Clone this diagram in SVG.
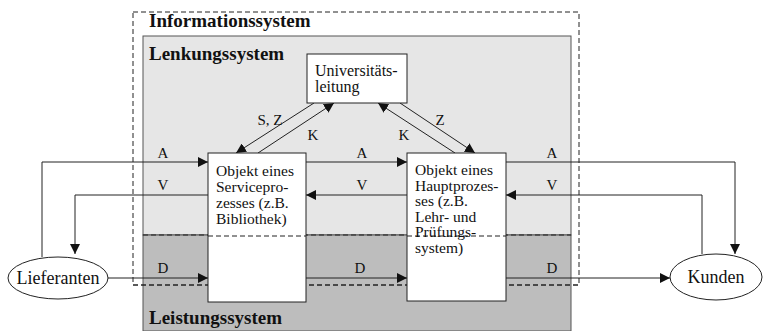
<svg xmlns="http://www.w3.org/2000/svg" width="763" height="331" viewBox="0 0 763 331">
<style>
.t{font-family:"Liberation Serif","Times New Roman",serif;fill:#111}
.title{font-size:19px;font-weight:bold}
.box{fill:#fff;stroke:#222;stroke-width:1}
.lbl{font-size:15px}
.bt{font-size:16px}
.bs{font-size:15.5px}
.ln{fill:none;stroke:#222;stroke-width:1}
.dash{fill:none;stroke:#222;stroke-width:1;stroke-dasharray:5,3}
</style>
<defs>
<marker id="ah" viewBox="0 0 10 10" refX="10" refY="5" markerWidth="10" markerHeight="10" markerUnits="userSpaceOnUse" orient="auto">
<path d="M0,0 L10,5 L0,10 z" fill="#111"/>
</marker>
</defs>
<g id="background">
<rect x="143" y="36" width="428" height="199" fill="#e6e6e6" stroke="#555" stroke-width="1"/>
<rect x="143" y="235" width="428" height="96" fill="#bdbdbd" stroke="#555" stroke-width="1"/>
<line x1="143" y1="235" x2="571" y2="235" class="dash"/>
<rect x="133" y="12" width="446" height="273" class="dash"/>
<text class="t title" x="149" y="27">Informationssystem</text>
<text class="t title" x="149" y="60">Lenkungssystem</text>
<text class="t title" x="149" y="324">Leistungssystem</text>
</g>
<g id="connectors">
<polyline class="ln" points="42,257 42,162 208,162" marker-end="url(#ah)"/>
<polyline class="ln" points="208,195 75,195 75,254" marker-end="url(#ah)"/>
<line class="ln" x1="108" y1="278" x2="208" y2="278" marker-end="url(#ah)"/>
<line class="ln" x1="306" y1="162" x2="407" y2="162" marker-end="url(#ah)"/>
<line class="ln" x1="407" y1="195" x2="306" y2="195" marker-end="url(#ah)"/>
<line class="ln" x1="306" y1="278" x2="407" y2="278" marker-end="url(#ah)"/>
<polyline class="ln" points="506,162 735,162 735,254" marker-end="url(#ah)"/>
<polyline class="ln" points="702,254 702,195 506,195" marker-end="url(#ah)"/>
<line class="ln" x1="506" y1="278" x2="670" y2="278" marker-end="url(#ah)"/>
<line class="ln" x1="314" y1="103" x2="236" y2="153" marker-end="url(#ah)"/>
<line class="ln" x1="258" y1="153" x2="334" y2="103" marker-end="url(#ah)"/>
<line class="ln" x1="455" y1="153" x2="378" y2="103" marker-end="url(#ah)"/>
<line class="ln" x1="400" y1="103" x2="475" y2="153" marker-end="url(#ah)"/>
<line x1="133" y1="285" x2="579" y2="285" class="dash"/>
<g class="t lbl" text-anchor="middle">
<text x="270" y="125">S, Z</text>
<text x="313" y="140">K</text>
<text x="404" y="140">K</text>
<text x="440" y="125">Z</text>
<text x="163" y="158">A</text>
<text x="163" y="190">V</text>
<text x="163" y="273">D</text>
<text x="362" y="158">A</text>
<text x="362" y="190">V</text>
<text x="360" y="273">D</text>
<text x="552" y="158">A</text>
<text x="552" y="190">V</text>
<text x="552" y="273">D</text>
</g>
</g>
<g id="uni">
<rect class="box" x="307" y="54" width="100" height="49"/>
<text class="t bt" x="315" y="76">Universitäts-</text>
<text class="t bt" x="315" y="92">leitung</text>
</g>
<g id="service">
<rect class="box" x="208" y="153" width="98" height="149"/>
<line x1="208" y1="236" x2="306" y2="236" class="dash"/>
<text class="t bs" x="216" y="176">Objekt eines</text>
<text class="t bs" x="216" y="192">Servicepro-</text>
<text class="t bs" x="216" y="208">zesses (z.B.</text>
<text class="t bs" x="216" y="224">Bibliothek)</text>
</g>
<g id="haupt">
<rect class="box" x="407" y="153" width="99" height="148"/>
<line x1="407" y1="236" x2="506" y2="236" class="dash"/>
<text class="t bs" x="415" y="175">Objekt eines</text>
<text class="t bs" x="415" y="190.5">Hauptprozes-</text>
<text class="t bs" x="415" y="206">ses (z.B.</text>
<text class="t bs" x="415" y="221.5">Lehr- und</text>
<text class="t bs" x="415" y="237">Prüfungs-</text>
<text class="t bs" x="415" y="252.5">system)</text>
</g>
<g id="lieferanten">
<ellipse cx="58" cy="278" rx="50" ry="21" fill="#fff" stroke="#222"/>
<text class="t" x="58" y="284" font-size="18" text-anchor="middle">Lieferanten</text>
</g>
<g id="kunden">
<ellipse cx="716" cy="277" rx="46" ry="23" fill="#fff" stroke="#222"/>
<text class="t" x="716" y="283" font-size="18" text-anchor="middle">Kunden</text>
</g>
</svg>
